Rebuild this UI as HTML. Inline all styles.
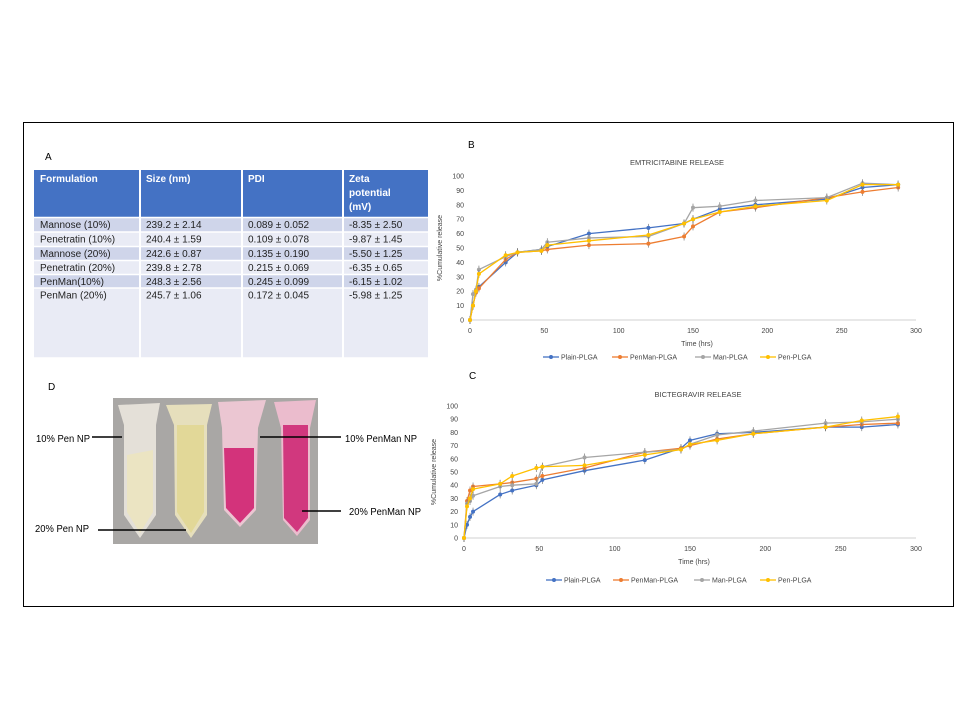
<!DOCTYPE html>
<html><head><meta charset="utf-8"><style>
body{margin:0;background:#fff;font-family:"Liberation Sans",sans-serif}
svg text{font-family:"Liberation Sans",sans-serif}
</style></head><body>
<svg width="960" height="720" viewBox="0 0 960 720" xmlns="http://www.w3.org/2000/svg">
<rect x="23.5" y="122.5" width="930" height="484" fill="#fff" stroke="#000" stroke-width="1"/>
<text x="45" y="160" font-size="10">A</text>
<g id="table"></g>
<text x="48" y="390" font-size="10">D</text>
<g>
<rect x="113" y="398" width="205" height="146" fill="#a9a7a5"/>
<path d="M118,405 L160,403 L156,425 L156,515 L140,538 L124,515 L124,425 Z" fill="#e4e0d8"/>
<path d="M127,455 L153,450 L153,512 L140,533 L127,512 Z" fill="#ebe4c2"/>
<path d="M166,405 L212,404 L207,425 L207,515 L191,538 L175,515 L174,425 Z" fill="#e6dfbc"/>
<path d="M177,425 L204,425 L204,512 L191,533 L177,512 Z" fill="#e2d898"/>
<path d="M218,402 L266,400 L258,428 L256,510 L240,527 L224,510 L222,428 Z" fill="#ebc6d2"/>
<path d="M224,448 L254,448 L254,508 L240,523 L226,508 Z" fill="#d3337b"/>
<path d="M274,402 L316,400 L310,428 L310,520 L297,536 L283,520 L281,428 Z" fill="#ebbccd"/>
<path d="M283,425 L308,425 L308,518 L297,532 L284,518 Z" fill="#d1387e"/>
</g>
<g font-size="10.5" fill="#000">
<text x="36" y="442" textLength="54" lengthAdjust="spacingAndGlyphs">10% Pen NP</text>
<line x1="92" y1="437" x2="122" y2="437" stroke="#000" stroke-width="1.5"/>
<text x="35" y="532" textLength="54" lengthAdjust="spacingAndGlyphs">20% Pen NP</text>
<line x1="98" y1="530" x2="186" y2="530" stroke="#000" stroke-width="1.5"/>
<text x="345" y="442" textLength="72" lengthAdjust="spacingAndGlyphs">10% PenMan NP</text>
<line x1="260" y1="437" x2="341" y2="437" stroke="#000" stroke-width="1.5"/>
<text x="349" y="515" textLength="72" lengthAdjust="spacingAndGlyphs">20% PenMan NP</text>
<line x1="302" y1="511" x2="341" y2="511" stroke="#000" stroke-width="1.5"/>
</g>
<text x="468" y="148" font-size="10">B</text>
<text x="469" y="379" font-size="10">C</text>
<g id="chartB"></g>
<g id="chartC"></g>
</svg>
<script>
const NS="http://www.w3.org/2000/svg";
const times=[0,2,4,6,24,32,48,52,80,120,144,150,168,192,240,264,288];
const seriesNames=["Plain-PLGA","PenMan-PLGA","Man-PLGA","Pen-PLGA"];
const seriesColors=["#4472C4","#ED7D31","#A5A5A5","#FFC000"];
const emPlain=[0,10,20,23,40,47,49,51,60,64,67,70,77,80,84,92,94];
const emPenMan=[0,10,19,22,42,47,48,49,52,53,58,65,75,78,85,89,92];
const emMan=[0,18,21,35,44,47,49,54,57,58,67,78,79,83,85,95,94];
const emPen=[0,10,20,32,45,47,48,52,55,59,67,70,75,79,83,94,94];
const biPlain=[0,10,16,20,33,36,40,44,51,59,68,74,79,80,84,84,86];
const biPenMan=[0,28,36,39,41,42,45,47,53,65,68,70,75,79,84,86,87];
const biMan=[0,26,28,32,39,40,41,54,61,65,67,71,78,81,87,88,90];
const biPen=[0,24,30,37,41,47,53,54,55,63,67,71,74,79,84,89,92];
const xTicks=[0,50,100,150,200,250,300];
const yTicks=[0,10,20,30,40,50,60,70,80,90,100];
const tableHeader=["Formulation","Size (nm)","PDI","Zeta potential (mV)"];
const tableRows=[["Mannose (10%)","239.2 ± 2.14","0.089 ± 0.052","-8.35 ± 2.50"],
["Penetratin (10%)","240.4 ± 1.59","0.109 ± 0.078","-9.87 ± 1.45"],
["Mannose (20%)","242.6 ± 0.87","0.135 ± 0.190","-5.50 ± 1.25"],
["Penetratin (20%)","239.8 ± 2.78","0.215 ± 0.069","-6.35 ± 0.65"],
["PenMan(10%)","248.3 ± 2.56","0.245 ± 0.099","-6.15 ± 1.02"],
["PenMan (20%)","245.7 ± 1.06","0.172 ± 0.045","-5.98 ± 1.25"]];

function mk(tag,attrs,parent,txt){const e=document.createElementNS(NS,tag);for(const k in attrs)e.setAttribute(k,attrs[k]);if(txt!==undefined)e.textContent=txt;parent.appendChild(e);return e;}

(function(){
const g=document.getElementById('table');
const cx=[34,140,242,343,428];
const rowY=[217.5,232,246.5,260.5,274.5,288,358];
const r0=mk('rect',{x:34,y:170,width:394,height:47.5,fill:'#4472C4'},g);


tableHeader.forEach((h,i)=>{
 if(i===3){["Zeta","potential","(mV)"].forEach((w,j)=>{mk('text',{x:cx[i]+6,y:182+j*14,'font-size':10,'font-weight':'bold',fill:'#fff'},g,w);});}
 else{const t=mk('text',{x:cx[i]+6,y:182,'font-size':10,'font-weight':'bold',fill:'#fff'},g,h);
 
 }
});
tableRows.forEach((row,r)=>{
 const rc=mk('rect',{x:34,y:rowY[r],width:394,height:rowY[r+1]-rowY[r],fill:r%2===0?'#CFD5EA':'#E9EBF5'},g);
 
 
 row.forEach((c,i)=>{mk('text',{x:cx[i]+6,y:rowY[r]+10.5,'font-size':10,fill:'#222'},g,c);});
});
for(let i=1;i<4;i++)mk('line',{x1:cx[i],y1:170,x2:cx[i],y2:358,stroke:'#fff','stroke-width':2},g);
for(let r=0;r<7;r++)mk('line',{x1:34,y1:rowY[r],x2:428,y2:rowY[r],stroke:'#fff','stroke-width':1.5},g);
})();

function chart(id,title,titleX,titleY,x0,x1,y0,y1,data,legendY,legendXs){
 const g=document.getElementById(id);
 const X=v=>x0+(x1-x0)*v/300, Y=v=>y0-(y0-y1)*v/100;
 mk('text',{x:titleX,y:titleY,'font-size':7.5,'text-anchor':'middle',fill:'#444'},g,title);
 mk('line',{x1:x0,y1:y0,x2:x1,y2:y0,stroke:'#d0d0d0'},g);
 yTicks.forEach(t=>{const e=mk('text',{x:x0-6,y:Y(t)+2.5,'font-size':7,'text-anchor':'end',fill:'#444'},g,t);
  
  });
 xTicks.forEach(t=>{const e=mk('text',{x:X(t),y:y0+13,'font-size':7,'text-anchor':'middle',fill:'#444'},g,t);
  
  });
 const xt=mk('text',{x:(x0+x1)/2+4,y:y0+26,'font-size':7,'text-anchor':'middle',fill:'#444'},g,'Time (hrs)');
 
 
 const yc=(y0+y1)/2;
 const yt=mk('text',{x:x0-28,y:yc,'font-size':7,'text-anchor':'middle',fill:'#444',transform:`rotate(-90 ${x0-28} ${yc})`},g,'%Cumulative release');
 
 
 data.forEach((vals,s)=>{
  const pts=times.map((t,i)=>X(t)+','+Y(vals[i])).join(' ');
  vals.forEach((v,i)=>{mk('line',{x1:X(times[i]),x2:X(times[i]),y1:Y(v)-4,y2:Y(v)+4,stroke:'#777','stroke-width':0.7},g);});
  const pl=mk('polyline',{points:pts,fill:'none',stroke:seriesColors[s],'stroke-width':1.3,'stroke-linejoin':'round'},g);
  
  
  vals.forEach((v,i)=>{const c=mk('circle',{cx:X(times[i]),cy:Y(v),r:2,fill:seriesColors[s]},g);
   
   });
  const lx=legendXs[s];
  const lg=mk('g',{},g);
  
  
  mk('line',{x1:lx,y1:legendY,x2:lx+16,y2:legendY,stroke:seriesColors[s],'stroke-width':1.3},lg);
  mk('circle',{cx:lx+8,cy:legendY,r:2,fill:seriesColors[s]},lg);
  mk('text',{x:lx+18,y:legendY+2.5,'font-size':7,fill:'#444'},lg,seriesNames[s]);
 });
}
chart('chartB','EMTRICITABINE RELEASE',677,165,470,916,320,176,[emPlain,emPenMan,emMan,emPen],357,[543,612,695,760]);
chart('chartC','BICTEGRAVIR RELEASE',698,397,464,916,538,406,[biPlain,biPenMan,biMan,biPen],580,[546,613,694,760]);
</script>
</body></html>
